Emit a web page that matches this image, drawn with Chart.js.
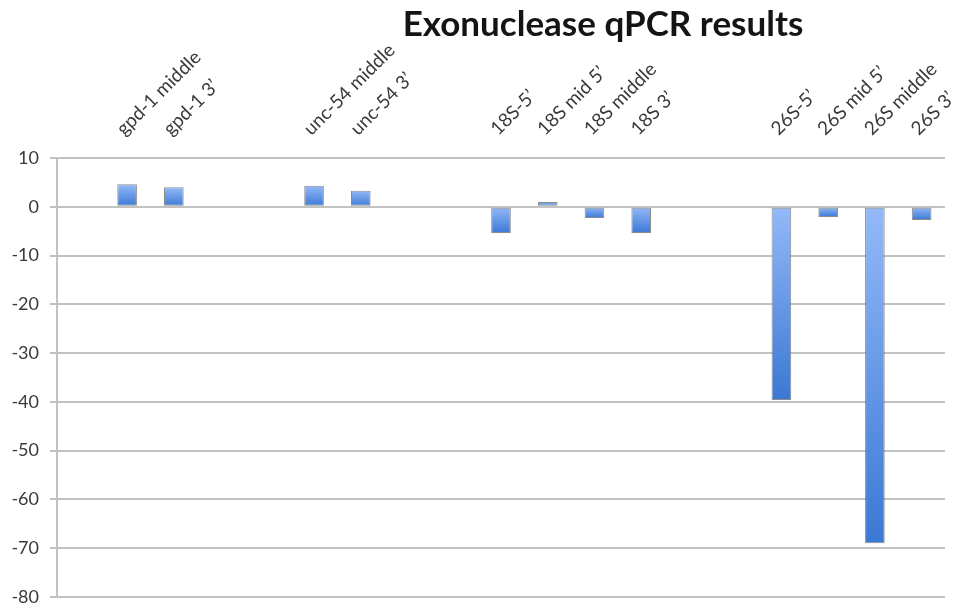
<!DOCTYPE html>
<html>
<head>
<meta charset="utf-8">
<script src="https://cdn.jsdelivr.net/npm/chart.js@4"></script>
<style>
  body { margin: 0; background: #fff; }
  #wrap { position: relative; width: 966px; height: 613px; }
  #title {
    position: absolute; left: 603px; top: 1px; transform: translateX(-50%);
    font: bold 35px Lato, sans-serif; color: #141414; white-space: nowrap;
  }
</style>
</head>
<body>
<div id="wrap">
  <canvas id="chart"></canvas>
  <div id="title">Exonuclease qPCR results</div>
</div>
<script>
// empty labels are the gaps between the gene groups
const categories = ['', 'gpd-1 middle', 'gpd-1 3’', '', '', 'unc-54 middle', 'unc-54 3’', '', '',
    '18S-5’', '18S mid 5’', '18S middle', '18S 3’', '', '',
    '26S-5’', '26S mid 5’', '26S middle', '26S 3’'];
const values = [null, 4.6, 4.0, null, null, 4.3, 3.3, null, null,
    -5.4, 1.0, -2.3, -5.4, null, null,
    -39.6, -2.1, -69, -2.7];
const yTicks = [10, 0, -10, -20, -30, -40, -50, -60, -70, -80];

const textColor = '#3a3a3a';
const gridColor = '#c2c2c2';

// light at the top of each bar, darker towards its bottom
function barGradient(context) {
    const chart = context.chart;
    if (!chart.chartArea) return '#5b8fe0';
    const v = values[context.dataIndex];
    if (v === null) return 'transparent';
    const y = chart.scales.y;
    const top = y.getPixelForValue(Math.max(v, 0));
    const bottom = y.getPixelForValue(Math.min(v, 0));
    const g = chart.ctx.createLinearGradient(0, top, 0, bottom + 0.01);
    g.addColorStop(0, '#93b9f8');
    g.addColorStop(1, '#3b78d4');
    return g;
}

const ctx = document.getElementById('chart').getContext('2d');

const myChart = new Chart(ctx, {
    type: 'bar',
    data: {
        labels: categories,
        datasets: [{
            data: values,
            backgroundColor: barGradient,
            borderColor: 'rgba(100,100,100,0.75)',
            borderWidth: 1,
            borderSkipped: false,
            barPercentage: 0.42,
            categoryPercentage: 1.0
        }]
    },
    options: {
        responsive: true,
        maintainAspectRatio: false,
        animation: false,
        layout: {
            padding: { top: 38, right: 21, bottom: 16, left: 0 }
        },
        scales: {
            x: {
                position: 'top',
                grid: { display: false },
                border: { display: false },
                ticks: {
                    autoSkip: false,
                    maxRotation: 45,
                    minRotation: 45,
                    padding: 10,
                    labelOffset: 9,
                    color: textColor,
                    font: { family: 'Lato', size: 19 }
                },
                afterFit: function (scale) {
                    scale.height = 120;
                    scale.paddingLeft = 0;
                    scale.paddingRight = 0;
                }
            },
            y: {
                min: -80,
                max: 10,
                afterBuildTicks: function (scale) {
                    scale.ticks = yTicks.map(v => ({ value: v }));
                },
                grid: { color: gridColor, lineWidth: 2, tickLength: 7 },
                border: { color: gridColor, width: 2 },
                ticks: {
                    padding: 11,
                    color: textColor,
                    font: { family: 'Lato', size: 18 }
                },
                afterFit: function (scale) {
                    scale.width = 57;
                    scale.paddingTop = 0;
                    scale.paddingBottom = 0;
                }
            }
        },
        plugins: {
            legend: { display: false },
            title: { display: false },
            tooltip: { enabled: false }
        }
    }
});
</script>
</body>
</html>
